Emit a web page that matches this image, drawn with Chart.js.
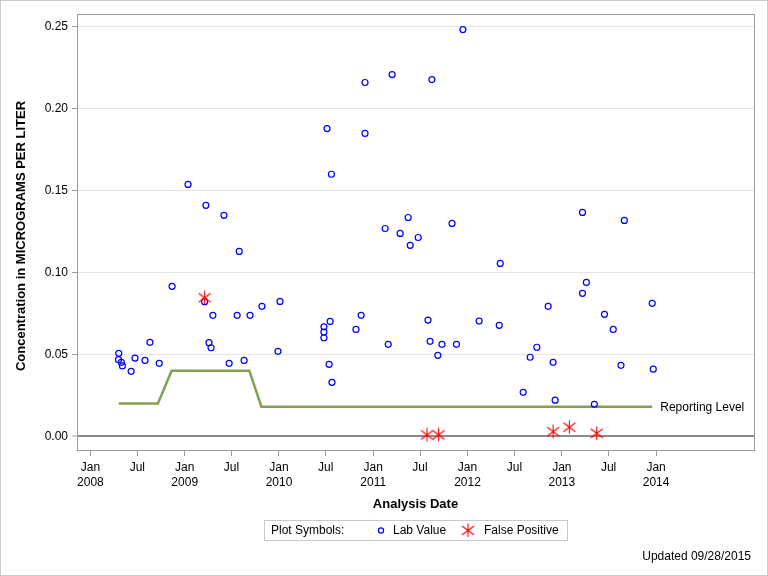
<!DOCTYPE html>
<html>
<head>
<meta charset="utf-8">
<script src="https://cdn.jsdelivr.net/npm/chart.js@4.4.1/dist/chart.umd.min.js"></script>
<style>
  html, body { margin: 0; padding: 0; background: #fff; }
  #wrap { width: 768px; height: 576px; position: relative; }
</style>
</head>
<body>
<div id="wrap"><canvas id="chart"></canvas></div>
<script>
const labDates = [
  '2008-04-20', '2008-04-19', '2008-04-30', '2008-05-04', '2008-06-07', '2008-06-22',
  '2008-07-31', '2008-08-19', '2008-09-24', '2008-11-13', '2009-01-14', '2009-03-19',
  '2009-03-24', '2009-04-05', '2009-04-13', '2009-04-20', '2009-06-02', '2009-06-22',
  '2009-07-23', '2009-07-31', '2009-08-19', '2009-09-11', '2009-10-27', '2009-12-28',
  '2010-01-05', '2010-06-24', '2010-06-24', '2010-06-24', '2010-07-06', '2010-07-14',
  '2010-07-18', '2010-07-23', '2010-07-25', '2010-10-26', '2010-11-15', '2010-11-30',
  '2010-11-30', '2011-02-16', '2011-02-28', '2011-03-15', '2011-04-15', '2011-05-16',
  '2011-05-24', '2011-06-24', '2011-08-01', '2011-08-09', '2011-08-16', '2011-09-08',
  '2011-09-24', '2011-11-02', '2011-11-19', '2011-12-14', '2012-02-15', '2012-05-03',
  '2012-05-07', '2012-08-04', '2012-08-31', '2012-09-26', '2012-11-09', '2012-11-28',
  '2012-12-06', '2013-03-22', '2013-03-22', '2013-04-06', '2013-05-07', '2013-06-15',
  '2013-07-19', '2013-08-18', '2013-08-31', '2013-12-17', '2013-12-21'
];
const labValues = [
  0.0506, 0.0467, 0.0451, 0.0429, 0.0396, 0.0477,
  0.0463, 0.0573, 0.0445, 0.0915, 0.1537, 0.0821,
  0.1409, 0.0571, 0.0540, 0.0738, 0.1348, 0.0445,
  0.0738, 0.1128, 0.0463, 0.0738, 0.0793, 0.0518,
  0.0823, 0.0668, 0.0636, 0.0601, 0.1878, 0.0439,
  0.0701, 0.1599, 0.0329, 0.0652, 0.0738, 0.2159,
  0.1848, 0.1268, 0.0561, 0.2207, 0.1238, 0.1335,
  0.1165, 0.1213, 0.0709, 0.0579, 0.2177, 0.0494,
  0.0561, 0.1299, 0.0561, 0.2482, 0.0703, 0.0677,
  0.1055, 0.0268, 0.0482, 0.0543, 0.0793, 0.0451,
  0.0220, 0.1366, 0.0872, 0.0939, 0.0195, 0.0744,
  0.0652, 0.0433, 0.1317, 0.0811, 0.0409
];

const fpDates = ['2009-03-19', '2011-07-28', '2011-09-11', '2012-11-28', '2013-01-30', '2013-05-16'];
const fpValues = [0.0845, 0.0008, 0.0008, 0.0028, 0.0055, 0.0018];

const reportDates = ['2008-04-20', '2008-09-19', '2008-11-11', '2009-09-08', '2009-10-25', '2013-12-17'];
const reportValues = [0.02, 0.02, 0.04, 0.04, 0.018, 0.018];

const xTickDates = [
  '2008-01-01', '2008-07-01', '2009-01-01', '2009-07-01', '2010-01-01', '2010-07-01',
  '2011-01-01', '2011-07-01', '2012-01-01', '2012-07-01', '2013-01-01', '2013-07-01', '2014-01-01'
];
const xTickLabels = [
  'Jan 2008', 'Jul', 'Jan 2009', 'Jul', 'Jan 2010', 'Jul',
  'Jan 2011', 'Jul', 'Jan 2012', 'Jul', 'Jan 2013', 'Jul', 'Jan 2014'
];
const yTickValues = [0, 0.05, 0.10, 0.15, 0.20, 0.25];
const xRange = ['2007-11-10', '2015-01-15'];
const yRange = [-0.0084, 0.2577];

const FONT = '"Liberation Sans", Arial, sans-serif';

// date string -> fractional year
function toYear(s) {
  const d = new Date(s + 'T00:00:00Z');
  const y = d.getUTCFullYear();
  const start = Date.UTC(y, 0, 1);
  const end = Date.UTC(y + 1, 0, 1);
  return y + (d.getTime() - start) / (end - start);
}

function makeStar() {
  const c = document.createElement('canvas');
  c.width = 15; c.height = 15;
  const g = c.getContext('2d');
  g.strokeStyle = '#ff0000';
  g.lineWidth = 1.1;
  g.beginPath();
  g.moveTo(7.5, 0.5); g.lineTo(7.5, 14);
  g.moveTo(1.5, 3); g.lineTo(13.5, 12);
  g.moveTo(1.5, 12); g.lineTo(13.5, 3);
  g.stroke();
  return c;
}
const starImg = makeStar();

const labPoints = labDates.map((d, i) => ({ x: toYear(d), y: labValues[i] }));
const fpPoints = fpDates.map((d, i) => ({ x: toYear(d), y: fpValues[i] }));
const reportPoints = reportDates.map((d, i) => ({ x: toYear(d), y: reportValues[i] }));

const decorations = {
  id: 'decorations',
  afterDraw(chart) {
    const ctx = chart.ctx;
    const a = chart.chartArea;
    ctx.save();

    // plot frame
    ctx.strokeStyle = '#9a9a9a';
    ctx.lineWidth = 1;
    ctx.strokeRect(Math.round(a.left) + 0.5, Math.round(a.top) + 0.5,
      Math.round(a.right - a.left), Math.round(a.bottom - a.top));

    // outer border
    ctx.strokeStyle = '#cccccc';
    ctx.strokeRect(0.5, 0.5, chart.width - 1, chart.height - 1);

    ctx.fillStyle = '#000';
    ctx.textBaseline = 'middle';

    // y axis title
    ctx.save();
    ctx.translate(21, (a.top + a.bottom) / 2 + 4);
    ctx.rotate(-Math.PI / 2);
    ctx.textAlign = 'center';
    ctx.font = 'bold 13px ' + FONT;
    ctx.fillText('Concentration in MICROGRAMS PER LITER', 0, 0);
    ctx.restore();

    // x axis title
    ctx.textAlign = 'center';
    ctx.font = 'bold 13px ' + FONT;
    ctx.fillText('Analysis Date', (a.left + a.right) / 2, 504);

    // reporting level label
    const line = chart.getDatasetMeta(2).data;
    const last = line[line.length - 1];
    ctx.textAlign = 'left';
    ctx.font = '12px ' + FONT;
    ctx.fillText('Reporting Level', last.x + 8, last.y + 0.5);

    // legend
    ctx.strokeStyle = '#c8c8c8';
    ctx.strokeRect(264.5, 520.5, 303, 20);
    ctx.fillText('Plot Symbols:', 271, 531);
    ctx.strokeStyle = '#0000ff';
    ctx.lineWidth = 1.2;
    ctx.beginPath();
    ctx.arc(381, 530.5, 2.6, 0, Math.PI * 2);
    ctx.stroke();
    ctx.fillText('Lab Value', 393, 531);
    ctx.drawImage(starImg, 468 - 7.5, 530.5 - 7.5);
    ctx.fillText('False Positive', 484, 531);

    // footnote
    ctx.textAlign = 'right';
    ctx.fillText('Updated 09/28/2015', 751, 557);

    ctx.restore();
  }
};

new Chart(document.getElementById('chart'), {
  type: 'scatter',
  data: {
    datasets: [
      {
        label: 'False Positive',
        data: fpPoints,
        pointStyle: starImg,
        pointRadius: 7,
        showLine: false
      },
      {
        label: 'Lab Value',
        data: labPoints,
        pointStyle: 'circle',
        pointRadius: 3,
        pointBorderWidth: 1.2,
        pointBorderColor: '#0000ff',
        pointBackgroundColor: 'rgba(0,0,0,0)',
        showLine: false
      },
      {
        label: 'Reporting Level',
        data: reportPoints,
        showLine: true,
        borderColor: '#85a04e',
        borderWidth: 2.5,
        pointRadius: 0,
        tension: 0
      }
    ]
  },
  options: {
    responsive: true,
    maintainAspectRatio: false,
    animation: false,
    events: [],
    layout: { padding: { top: 14, right: 14, left: 0, bottom: 0 } },
    plugins: {
      legend: { display: false },
      tooltip: { enabled: false }
    },
    scales: {
      x: {
        type: 'linear',
        min: toYear(xRange[0]),
        max: toYear(xRange[1]),
        afterBuildTicks: (axis) => {
          axis.ticks = xTickDates.map(d => ({ value: toYear(d) }));
        },
        afterFit: (axis) => { axis.height = 126; },
        border: { display: false },
        grid: {
          drawOnChartArea: false,
          drawTicks: true,
          tickLength: 6,
          tickColor: '#9a9a9a'
        },
        ticks: {
          autoSkip: false,
          maxRotation: 0,
          padding: 4,
          color: '#000',
          font: { family: FONT, size: 12, lineHeight: 1.25 },
          callback: (value, index) => xTickLabels[index].split(' ')
        }
      },
      y: {
        type: 'linear',
        min: yRange[0],
        max: yRange[1],
        afterBuildTicks: (axis) => {
          axis.ticks = yTickValues.map(v => ({ value: v }));
        },
        afterFit: (axis) => { axis.width = 77; },
        border: { display: false },
        grid: {
          color: (c) => (c.tick && c.tick.value === 0 ? '#8a8a8a' : '#e4e4e4'),
          lineWidth: (c) => (c.tick && c.tick.value === 0 ? 2 : 1),
          tickLength: 5,
          tickColor: '#9a9a9a',
          tickWidth: 1
        },
        ticks: {
          padding: 4,
          color: '#000',
          font: { family: FONT, size: 12 },
          callback: (value) => Number(value).toFixed(2)
        }
      }
    }
  },
  plugins: [decorations]
});
</script>
</body>
</html>
